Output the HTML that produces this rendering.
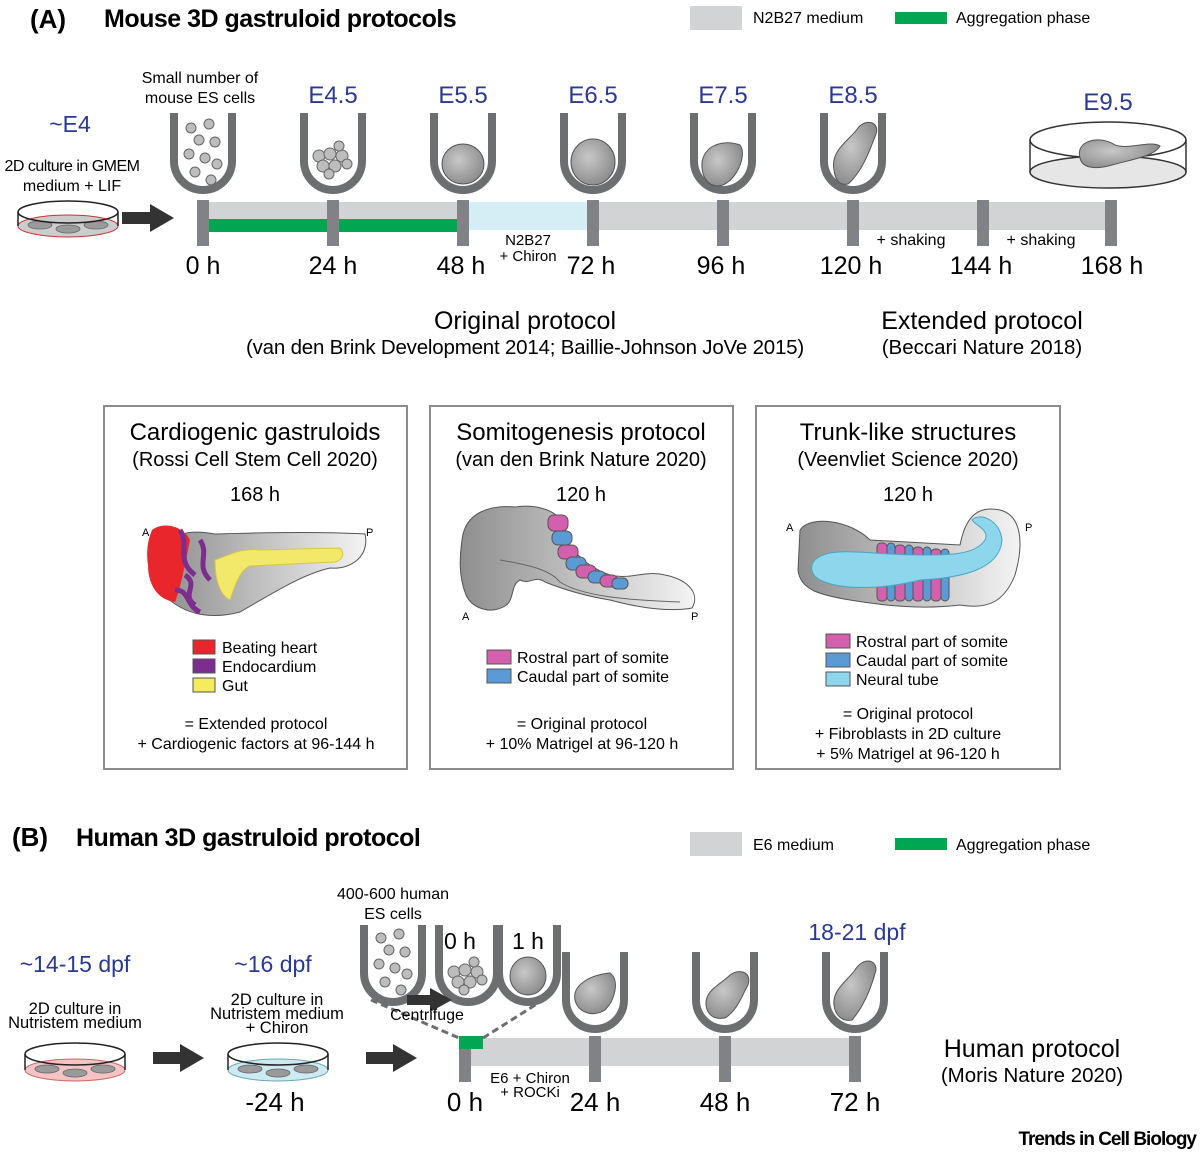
<!DOCTYPE html>
<html><head><meta charset="utf-8"><style>
body{margin:0;background:#fff}
svg{display:block;font-family:"Liberation Sans",Arial,sans-serif}
</style></head><body>
<svg width="1200" height="1153" viewBox="0 0 1200 1153" xmlns="http://www.w3.org/2000/svg">
<defs>
<path id="well" d="M-29,0 V48 A29,29 0 0 0 29,48 V0" fill="none" stroke="#6d6e70" stroke-width="8"/>
<radialGradient id="g1" cx="0.4" cy="0.4" r="0.7"><stop offset="0" stop-color="#c8c8c8"/><stop offset="1" stop-color="#858585"/></radialGradient>
<linearGradient id="g2" x1="0" x2="1"><stop offset="0" stop-color="#8e8e8e"/><stop offset="1" stop-color="#f4f4f4"/></linearGradient>
<g id="cells" fill="#bdbdbd" stroke="#666" stroke-width="1">
<circle cx="-12" cy="8" r="5"/><circle cx="6" cy="4" r="5"/><circle cx="-4" cy="20" r="5"/><circle cx="12" cy="22" r="5"/><circle cx="-14" cy="34" r="5"/><circle cx="2" cy="38" r="5"/><circle cx="14" cy="44" r="5"/><circle cx="-8" cy="52" r="5"/><circle cx="8" cy="60" r="5"/>
</g>
<g id="clump" fill="#bdbdbd" stroke="#666" stroke-width="1">
<circle cx="-14" cy="50" r="6"/><circle cx="-3" cy="48" r="6"/><circle cx="9" cy="50" r="6"/><circle cx="-10" cy="60" r="6"/><circle cx="2" cy="60" r="6"/><circle cx="14" cy="58" r="5"/><circle cx="-4" cy="68" r="5"/><circle cx="6" cy="40" r="5"/>
</g>
<g id="dcells" fill="#9a9a9a" stroke="#666" stroke-width="0.8">
<ellipse cx="-28" cy="0" rx="12" ry="4"/><ellipse cx="0" cy="4" rx="12" ry="4"/><ellipse cx="28" cy="0" rx="12" ry="4"/>
</g>
</defs>

<text x="30" y="28" font-size="26" font-weight="bold">(A)</text>
<text x="104" y="27" font-size="25" font-weight="bold" letter-spacing="-0.5">Mouse 3D gastruloid protocols</text>
<rect x="690" y="6" width="52" height="24" fill="#d1d3d4"/>
<text x="753" y="23" font-size="16">N2B27 medium</text>
<rect x="895" y="12" width="52" height="12" fill="#00a651"/>
<text x="956" y="23" font-size="16">Aggregation phase</text>

<text x="70" y="132" font-size="23" fill="#2b3990" text-anchor="middle">~E4</text>
<text x="72" y="171" font-size="16" text-anchor="middle" letter-spacing="-0.5">2D culture in GMEM</text>
<text x="72" y="191" font-size="16" text-anchor="middle">medium + LIF</text>
<ellipse cx="68" cy="226" rx="50" ry="11" fill="#ccc" stroke="#c33" stroke-width="1"/>
<use href="#dcells" x="68" y="225"/>
<path d="M18,212 V226 M118,212 V226" stroke="#222" stroke-width="1.5"/>
<ellipse cx="68" cy="212" rx="50" ry="11" fill="none" stroke="#222" stroke-width="1.5"/>
<polygon points="122,212 150,212 150,204 174,218 150,232 150,224 122,224" fill="#333"/>

<rect x="205" y="202" width="905" height="28" fill="#d1d3d4"/>
<rect x="469" y="202" width="120" height="28" fill="#d5eef6"/>
<rect x="209" y="219" width="250" height="13" fill="#00a651"/>
<g fill="#808285">
<rect x="197" y="200" width="12" height="46"/><rect x="327" y="200" width="12" height="46"/><rect x="457" y="200" width="12" height="46"/><rect x="587" y="200" width="12" height="46"/><rect x="717" y="200" width="12" height="46"/><rect x="847" y="200" width="12" height="46"/><rect x="977" y="200" width="12" height="46"/><rect x="1105" y="200" width="12" height="46"/>
</g>
<g font-size="25" text-anchor="middle">
<text x="203" y="274">0 h</text><text x="333" y="274">24 h</text><text x="461" y="274">48 h</text><text x="591" y="274">72 h</text><text x="721" y="274">96 h</text><text x="851" y="274">120 h</text><text x="981" y="274">144 h</text><text x="1112" y="274">168 h</text>
</g>
<text x="528" y="245" font-size="15" text-anchor="middle">N2B27</text>
<text x="528" y="261" font-size="15" text-anchor="middle">+ Chiron</text>
<text x="911" y="245" font-size="16" text-anchor="middle">+ shaking</text>
<text x="1041" y="245" font-size="16" text-anchor="middle">+ shaking</text>

<text x="200" y="83" font-size="16" text-anchor="middle">Small number of</text>
<text x="200" y="103" font-size="16" text-anchor="middle">mouse ES cells</text>
<g font-size="24" fill="#2b3990" text-anchor="middle">
<text x="333" y="103">E4.5</text><text x="463" y="103">E5.5</text><text x="593" y="103">E6.5</text><text x="723" y="103">E7.5</text><text x="853" y="103">E8.5</text><text x="1108" y="110">E9.5</text>
</g>
<use href="#well" x="203" y="113"/><use href="#cells" x="203" y="120"/>
<use href="#well" x="333" y="113"/><use href="#clump" x="333" y="106"/>
<use href="#well" x="463" y="113"/><ellipse cx="463" cy="164" rx="21" ry="20" fill="url(#g1)" stroke="#555"/>
<use href="#well" x="593" y="113"/><ellipse cx="593" cy="162" rx="22" ry="23" fill="url(#g1)" stroke="#555"/>
<use href="#well" x="723" y="113"/><path d="M702,168 C700,148 720,138 740,145 C748,155 735,185 718,186 C708,186 703,178 702,168Z" fill="url(#g1)" stroke="#555"/>
<use href="#well" x="853" y="113"/><path d="M834,170 C830,150 850,140 858,128 C866,118 880,122 876,134 C870,150 862,172 848,184 C838,186 835,178 834,170Z" fill="url(#g1)" stroke="#555"/>
<ellipse cx="1108" cy="172" rx="78" ry="16" fill="#e6e6e6" stroke="#333" stroke-width="1.5"/>
<path d="M1030,140 V172 M1186,140 V172" stroke="#333" stroke-width="1.5"/>
<ellipse cx="1108" cy="140" rx="78" ry="18" fill="none" stroke="#333" stroke-width="1.5"/>
<path d="M1080,158 C1075,140 1100,135 1115,145 C1130,150 1150,140 1160,146 C1155,156 1130,160 1112,165 C1095,170 1082,168 1080,158Z" fill="url(#g1)" stroke="#555"/>

<text x="525" y="329" font-size="25" text-anchor="middle">Original protocol</text>
<text x="525" y="354" font-size="20.5" text-anchor="middle" letter-spacing="-0.2">(van den Brink Development 2014; Baillie-Johnson JoVe 2015)</text>
<text x="982" y="329" font-size="25" text-anchor="middle">Extended protocol</text>
<text x="982" y="354" font-size="20.5" text-anchor="middle">(Beccari Nature 2018)</text>

<g fill="none" stroke="#8a8c8e" stroke-width="2">
<rect x="104" y="406" width="303" height="363"/><rect x="430" y="406" width="303" height="363"/><rect x="756" y="406" width="304" height="363"/>
</g>
<g text-anchor="middle">
<text x="255" y="440" font-size="24">Cardiogenic gastruloids</text>
<text x="255" y="466" font-size="20">(Rossi Cell Stem Cell 2020)</text>
<text x="255" y="501" font-size="20">168 h</text>
<text x="581" y="440" font-size="24">Somitogenesis protocol</text>
<text x="581" y="466" font-size="20">(van den Brink Nature 2020)</text>
<text x="581" y="501" font-size="20">120 h</text>
<text x="908" y="440" font-size="24">Trunk-like structures</text>
<text x="908" y="466" font-size="20">(Veenvliet Science 2020)</text>
<text x="908" y="501" font-size="20">120 h</text>
</g>
<path d="M160,560 C170,530 190,530 215,534 C280,532 330,532 365,534 C370,555 352,570 330,568 C300,575 270,595 240,612 C210,620 180,615 160,590Z" fill="url(#g2)" stroke="#555"/>
<path d="M152,530 C165,520 185,528 190,540 C185,565 180,590 175,602 C158,600 148,585 148,565 C146,550 148,540 152,530Z" fill="#e8262b"/>
<path d="M215,560 C230,555 240,548 260,550 L340,548 C345,553 343,560 335,562 L250,566 C240,570 235,585 230,600 C220,595 215,580 215,560Z" fill="#f2e86a" stroke="#d8c840"/>
<path d="M180,530 C190,545 175,560 195,575 M185,575 C200,585 180,595 195,605 M200,540 C210,555 195,565 210,580 M175,590 C190,590 185,605 200,612" stroke="#7b2e8e" stroke-width="5" fill="none"/>
<text x="142" y="536" font-size="11">A</text><text x="366" y="536" font-size="11">P</text>
<path d="M462,540 C465,512 490,505 515,507 C535,504 550,510 556,515 C562,540 580,565 610,575 C630,580 645,570 665,575 C690,580 700,595 692,608 C670,612 640,608 610,600 C585,596 565,590 545,582 C535,575 530,585 520,580 C510,585 515,600 505,606 C490,615 472,608 466,595 C458,575 460,555 462,540Z" fill="url(#g2)" stroke="#555"/>
<path d="M500,560 C530,565 550,570 560,582 C580,595 620,600 680,602" stroke="#666" fill="none"/>
<g stroke="#555" stroke-width="1">
<rect x="548" y="515" width="20" height="16" rx="6" fill="#d35fad"/><rect x="552" y="531" width="20" height="14" rx="6" fill="#5b9bd5"/>
<rect x="558" y="545" width="20" height="14" rx="6" fill="#d35fad"/><rect x="566" y="557" width="20" height="13" rx="6" fill="#5b9bd5"/>
<rect x="576" y="565" width="20" height="13" rx="6" fill="#d35fad"/><rect x="588" y="571" width="18" height="12" rx="6" fill="#5b9bd5"/>
<rect x="600" y="575" width="18" height="12" rx="6" fill="#d35fad"/><rect x="612" y="578" width="16" height="11" rx="5" fill="#5b9bd5"/>
</g>
<text x="462" y="620" font-size="11">A</text><text x="691" y="620" font-size="11">P</text>
<path d="M800,530 C810,515 850,520 870,540 L960,545 C965,520 975,505 1000,510 C1020,515 1025,540 1015,575 C1005,600 990,610 960,605 C920,610 880,605 850,600 C820,595 800,590 798,570Z" fill="url(#g2)" stroke="#555"/>
<g stroke="#555" stroke-width="1">
<rect x="877" y="543" width="10" height="58" rx="4" fill="#d35fad"/><rect x="887" y="543" width="8" height="58" rx="4" fill="#5b9bd5"/>
<rect x="895" y="545" width="10" height="56" rx="4" fill="#d35fad"/><rect x="905" y="545" width="8" height="56" rx="4" fill="#5b9bd5"/>
<rect x="913" y="547" width="10" height="54" rx="4" fill="#d35fad"/><rect x="923" y="547" width="8" height="54" rx="4" fill="#5b9bd5"/>
<rect x="931" y="549" width="10" height="52" rx="4" fill="#d35fad"/><rect x="941" y="549" width="8" height="52" rx="4" fill="#5b9bd5"/>
</g>
<path d="M815,560 C830,545 870,555 920,555 C950,555 975,555 985,540 C990,530 975,525 972,520 C980,512 1000,520 1002,540 C1000,570 960,578 920,580 C880,590 840,590 820,580 C810,575 810,565 815,560Z" fill="#8dd6ec" stroke="#4aa5c5"/>
<text x="786" y="531" font-size="11">A</text><text x="1025" y="531" font-size="11">P</text>

<g stroke="#555" stroke-width="1">
<rect x="193" y="640" width="22" height="14" fill="#e8262b"/><rect x="193" y="659" width="22" height="14" fill="#7b2e8e"/><rect x="193" y="678" width="22" height="14" fill="#f5ec5c"/>
<rect x="487" y="650" width="24" height="14" fill="#d35fad"/><rect x="487" y="669" width="24" height="14" fill="#5b9bd5"/>
<rect x="826" y="634" width="24" height="14" fill="#d35fad"/><rect x="826" y="653" width="24" height="14" fill="#5b9bd5"/><rect x="826" y="672" width="24" height="14" fill="#8dd6ec"/>
</g>
<g font-size="16">
<text x="222" y="653">Beating heart</text><text x="222" y="672">Endocardium</text><text x="222" y="691">Gut</text>
<text x="517" y="663">Rostral part of somite</text><text x="517" y="682">Caudal part of somite</text>
<text x="856" y="647">Rostral part of somite</text><text x="856" y="666">Caudal part of somite</text><text x="856" y="685">Neural tube</text>
</g>
<g font-size="16" text-anchor="middle">
<text x="256" y="729">= Extended protocol</text><text x="256" y="749">+ Cardiogenic factors at 96-144 h</text>
<text x="582" y="729">= Original protocol</text><text x="582" y="749">+ 10% Matrigel at 96-120 h</text>
<text x="908" y="719">= Original protocol</text><text x="908" y="739">+ Fibroblasts in 2D culture</text><text x="908" y="759">+ 5% Matrigel at 96-120 h</text>
</g>

<text x="12" y="846" font-size="26" font-weight="bold">(B)</text>
<text x="76" y="846" font-size="25" font-weight="bold" letter-spacing="-0.5">Human 3D gastruloid protocol</text>
<rect x="690" y="832" width="52" height="24" fill="#d1d3d4"/>
<text x="753" y="850" font-size="16">E6 medium</text>
<rect x="895" y="838" width="52" height="12" fill="#00a651"/>
<text x="956" y="850" font-size="16">Aggregation phase</text>

<text x="75" y="972" font-size="23" fill="#2b3990" text-anchor="middle">~14-15 dpf</text>
<text x="75" y="1014" font-size="16.5" text-anchor="middle">2D culture in</text>
<text x="75" y="1028" font-size="16.5" text-anchor="middle">Nutristem medium</text>
<ellipse cx="75" cy="1070" rx="50" ry="11" fill="#f4c4c4" stroke="#c66"/>
<use href="#dcells" x="75" y="1069"/>
<path d="M25,1054 V1070 M125,1054 V1070" stroke="#222" stroke-width="1.5"/>
<ellipse cx="75" cy="1054" rx="50" ry="11" fill="none" stroke="#222" stroke-width="1.5"/>
<polygon points="153,1052 180,1052 180,1044 204,1058 180,1072 180,1064 153,1064" fill="#333"/>

<text x="273" y="972" font-size="23" fill="#2b3990" text-anchor="middle">~16 dpf</text>
<text x="277" y="1005" font-size="16.5" text-anchor="middle">2D culture in</text>
<text x="277" y="1019" font-size="16.5" text-anchor="middle">Nutristem medium</text>
<text x="277" y="1033" font-size="16.5" text-anchor="middle">+ Chiron</text>
<ellipse cx="278" cy="1070" rx="50" ry="11" fill="#cde9f2" stroke="#6aa"/>
<use href="#dcells" x="278" y="1069"/>
<path d="M228,1054 V1070 M328,1054 V1070" stroke="#222" stroke-width="1.5"/>
<ellipse cx="278" cy="1054" rx="50" ry="11" fill="none" stroke="#222" stroke-width="1.5"/>
<polygon points="366,1052 393,1052 393,1044 417,1058 393,1072 393,1064 366,1064" fill="#333"/>
<text x="275" y="1111" font-size="26" text-anchor="middle">-24 h</text>

<rect x="470" y="1038" width="385" height="28" fill="#d1d3d4"/>
<g fill="#808285">
<rect x="459" y="1036" width="12" height="46"/><rect x="589" y="1036" width="12" height="46"/><rect x="719" y="1036" width="12" height="46"/><rect x="849" y="1036" width="12" height="46"/>
</g>
<rect x="459" y="1036" width="24" height="13" fill="#00a651"/>
<path d="M371,1000 L459,1038 M483,1038 L543,1000" stroke="#6d6e70" stroke-width="3" stroke-dasharray="7,4"/>
<g font-size="26" text-anchor="middle">
<text x="465" y="1111">0 h</text><text x="595" y="1111">24 h</text><text x="725" y="1111">48 h</text><text x="855" y="1111">72 h</text>
</g>
<text x="530" y="1083" font-size="15" text-anchor="middle">E6 + Chiron</text>
<text x="530" y="1097" font-size="15" text-anchor="middle">+ ROCKi</text>

<text x="393" y="899" font-size="16" text-anchor="middle">400-600 human</text>
<text x="393" y="919" font-size="16" text-anchor="middle">ES cells</text>
<use href="#well" x="393" y="925"/><use href="#cells" x="393" y="930"/>
<use href="#well" x="468" y="925"/><use href="#clump" x="468" y="922"/>
<text x="460" y="949" font-size="23" text-anchor="middle">0 h</text>
<use href="#well" x="528" y="925"/><ellipse cx="528" cy="976" rx="18" ry="19" fill="url(#g1)" stroke="#555"/>
<text x="528" y="949" font-size="23" text-anchor="middle">1 h</text>
<polygon points="407,995 430,995 430,988 452,1000 430,1012 430,1005 407,1005" fill="#333"/>
<text x="427" y="1020" font-size="16" text-anchor="middle">Centrifuge</text>
<text x="857" y="940" font-size="23" fill="#2b3990" text-anchor="middle">18-21 dpf</text>
<use href="#well" x="595" y="952"/><path d="M575,1000 C572,985 590,975 610,973 C620,980 615,1000 605,1010 C592,1018 578,1012 575,1000Z" fill="url(#g1)" stroke="#555"/>
<use href="#well" x="725" y="952"/><path d="M706,1005 C705,990 720,985 730,975 C740,968 752,972 748,985 C742,995 738,1010 725,1018 C713,1020 707,1014 706,1005Z" fill="url(#g1)" stroke="#555"/>
<use href="#well" x="855" y="952"/><path d="M834,1005 C832,990 848,980 855,970 C862,958 876,958 876,970 C872,985 865,1005 852,1020 C842,1022 835,1015 834,1005Z" fill="url(#g1)" stroke="#555"/>

<text x="1032" y="1057" font-size="25" text-anchor="middle">Human protocol</text>
<text x="1032" y="1082" font-size="20.5" text-anchor="middle">(Moris Nature 2020)</text>
<text x="1196" y="1145" font-size="19" font-weight="bold" text-anchor="end" letter-spacing="-1">Trends in Cell Biology</text>
</svg>
</body></html>
